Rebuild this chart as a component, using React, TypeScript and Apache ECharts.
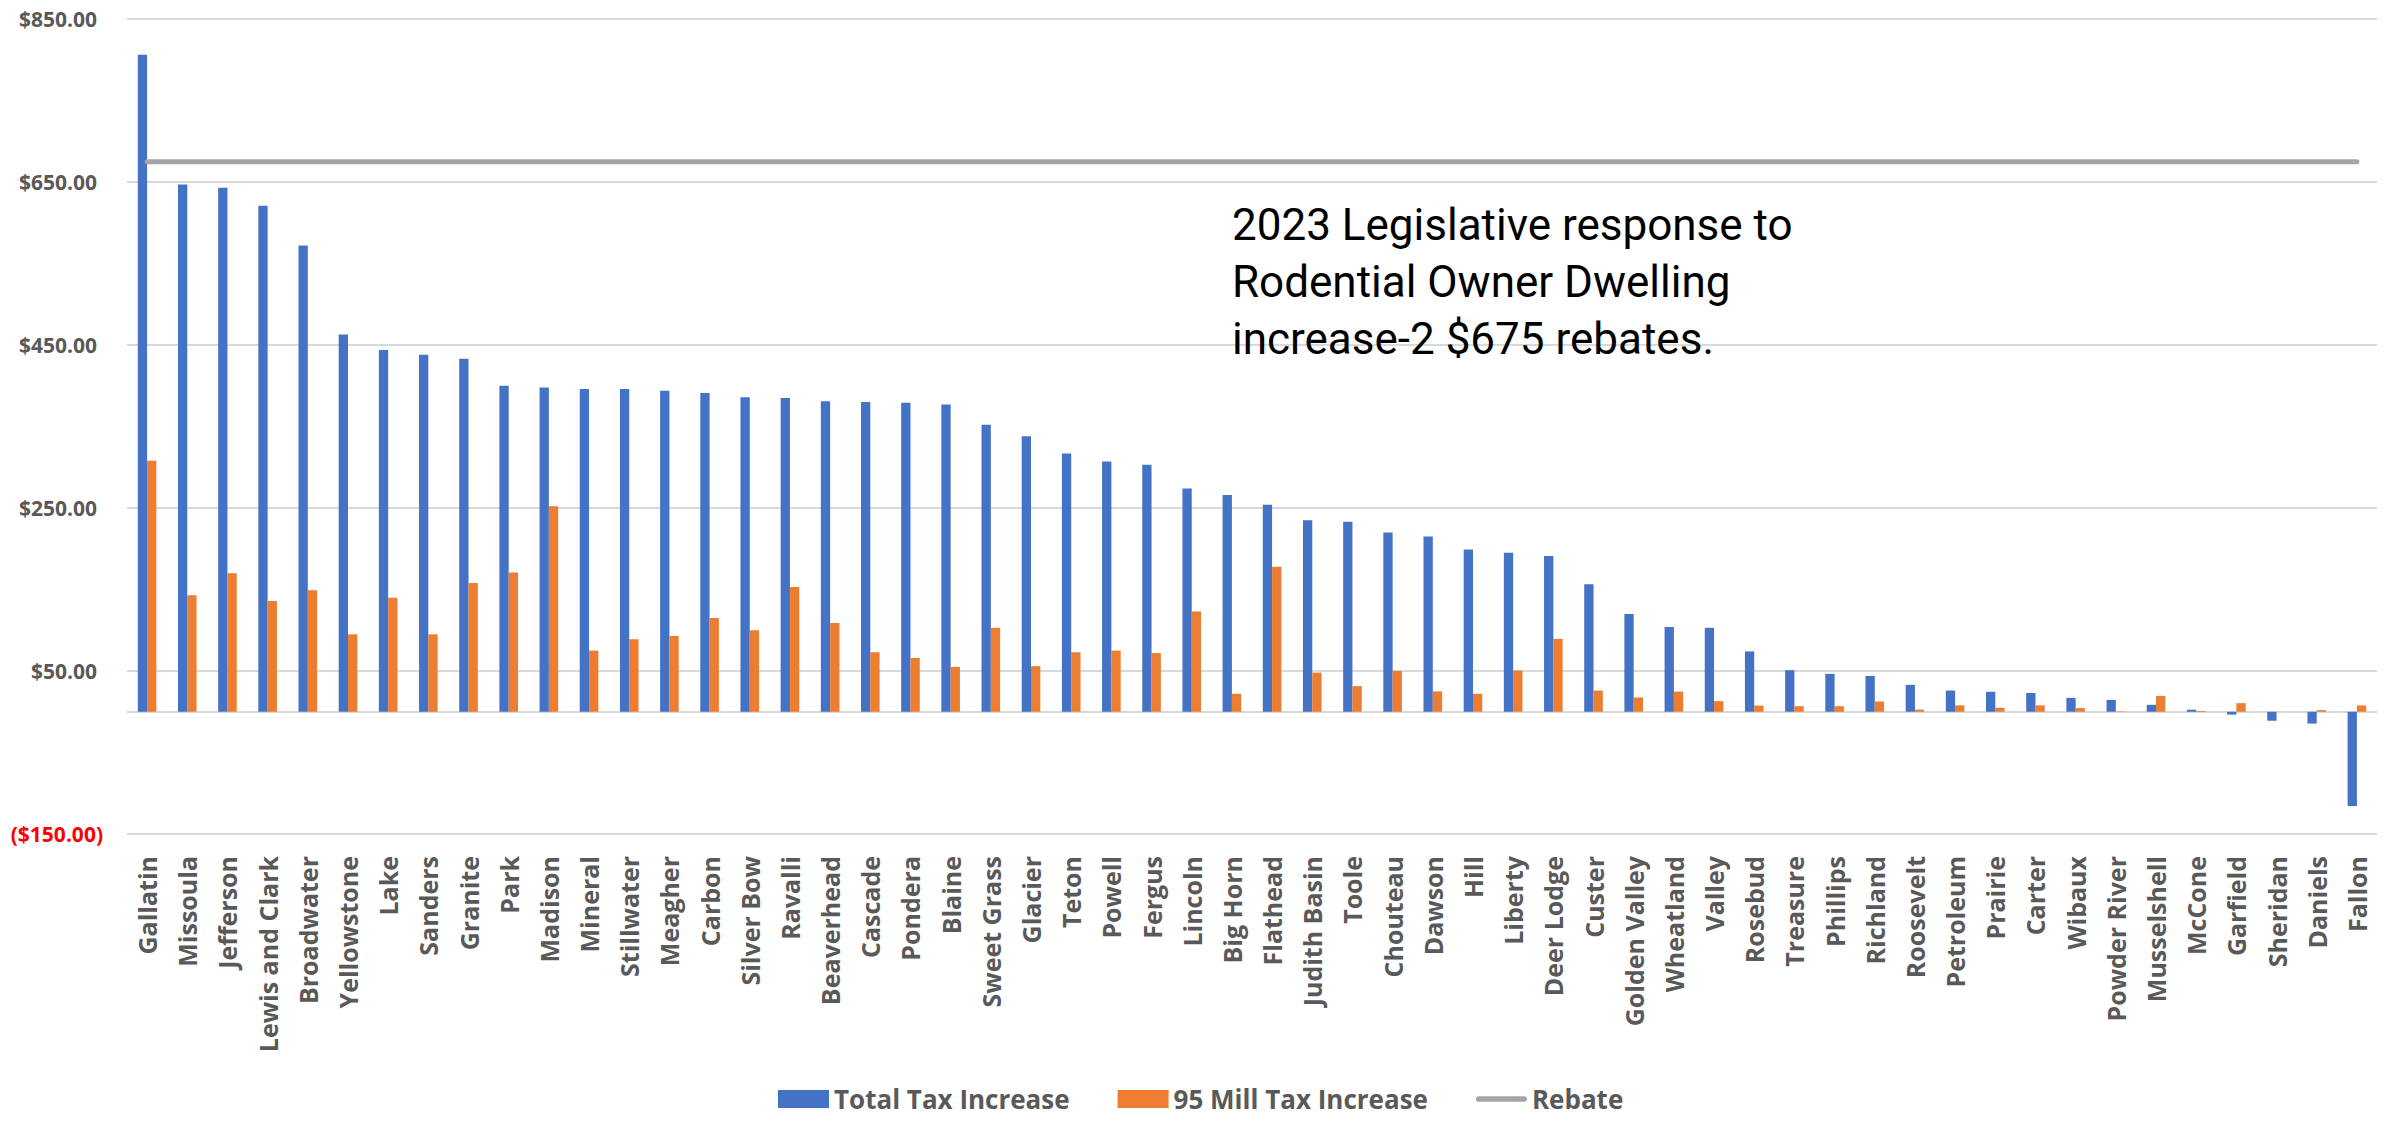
import React, { useEffect, useRef } from "react";
import * as echarts from "echarts";

const counties = [
  "Gallatin", "Missoula", "Jefferson", "Lewis and Clark", "Broadwater", "Yellowstone", "Lake", "Sanders",
  "Granite", "Park", "Madison", "Mineral", "Stillwater", "Meagher", "Carbon", "Silver Bow", "Ravalli",
  "Beaverhead", "Cascade", "Pondera", "Blaine", "Sweet Grass", "Glacier", "Teton", "Powell", "Fergus",
  "Lincoln", "Big Horn", "Flathead", "Judith Basin", "Toole", "Chouteau", "Dawson", "Hill", "Liberty",
  "Deer Lodge", "Custer", "Golden Valley", "Wheatland", "Valley", "Rosebud", "Treasure", "Phillips",
  "Richland", "Roosevelt", "Petroleum", "Prairie", "Carter", "Wibaux", "Powder River", "Musselshell",
  "McCone", "Garfield", "Sheridan", "Daniels", "Fallon",
];

const totalTaxIncrease = [
  806, 647, 643, 621, 572, 463, 444, 438, 433, 400, 398, 396, 396, 394, 391, 386, 385, 381, 380, 379,
  377, 352, 338, 317, 307, 303, 274, 266, 254, 235, 233, 220, 215, 199, 195, 191, 156.5, 120, 104, 103,
  74, 51, 46.5, 44, 33, 26, 24.5, 23, 17, 14.5, 8.5, 2.5, -3.5, -11, -14.5, -115.5,
];

const millTaxIncrease = [
  308, 143, 170, 136, 149, 95, 140, 95, 158, 171, 252, 75, 89, 93, 115, 100, 153, 109, 73, 66,
  55, 103, 56, 73, 75, 72, 123, 22, 178, 48, 31.5, 50, 25, 22, 50.5, 89.5, 26, 17.5, 24.7, 13,
  7.6, 6.8, 6.8, 12.6, 2.6, 7.8, 4.8, 7.8, 4.5, 0.5, 19.5, 1, 10.5, 0, 2, 7.8,
];

const REBATE = 675;
const rebate = counties.map(() => REBATE);

const yLabelValues = [-150, 50, 250, 450, 650, 850];
const gridLineValues = [-150, 0, 50, 250, 450, 650, 850];
const Y_MIN = -150;
const Y_MAX = 850;
const Y_STEP = 50;

const annotationLines = [
  "2023 Legislative response to",
  "Rodential Owner Dwelling",
  "increase-2 $675 rebates.",
];

const fmtMoney = (v: number) => {
  const s = "$" + Math.abs(v).toFixed(2);
  return v < 0 ? "(" + s + ")" : s;
};

export default function App() {
  const ref = useRef<HTMLDivElement>(null);
  useEffect(() => {
    if (!ref.current) return;
    const chart = echarts.init(ref.current, undefined, { renderer: "svg" });
    const tickVals: number[] = [];
    for (let v = Y_MIN; v <= Y_MAX; v += Y_STEP) tickVals.push(v);
    const splitColors = tickVals.map((v) =>
      gridLineValues.includes(v) ? "#d9d9d9" : "rgba(0,0,0,0)"
    );
    chart.setOption({
      animation: false,
      backgroundColor: "#ffffff",
      grid: { left: 127, right: 15, top: 19, bottom: 287, containLabel: false },
      legend: {
        left: 773,
        top: 1081,
        itemWidth: 51,
        itemHeight: 18,
        itemGap: 48,
        symbolKeepAspect: true,
        textStyle: {
          fontFamily: "'Open Sans', sans-serif",
          fontWeight: "bold",
          fontSize: 26,
          color: "#595959",
        },
        data: [
          { name: "Total Tax Increase", icon: "rect" },
          { name: "95 Mill Tax Increase", icon: "rect" },
          {
            name: "Rebate",
            icon: "path://M3,0 H51 A3,3 0 0 1 51,6 H3 A3,3 0 0 1 3,0 Z",
            itemStyle: { color: "#a5a5a5" },
          },
        ],
      },
      xAxis: {
        type: "category",
        data: counties,
        axisLine: { show: false, onZero: false },
        axisTick: { show: false },
        axisLabel: {
          interval: 0,
          rotate: 90,
          margin: 22,
          fontFamily: "'Open Sans', sans-serif",
          fontWeight: "bold",
          fontSize: 25,
          color: "#595959",
        },
      },
      yAxis: {
        type: "value",
        min: Y_MIN,
        max: Y_MAX,
        interval: Y_STEP,
        axisLine: { show: false },
        axisTick: { show: false },
        splitLine: { show: true, lineStyle: { color: splitColors, width: 2 } },
        axisLabel: {
          margin: 24,
          fontFamily: "'Open Sans', sans-serif",
          fontWeight: "bold",
          fontSize: 21,
          formatter: (v: number) => {
            if (!yLabelValues.includes(v)) return "";
            return v < 0 ? "{neg|" + fmtMoney(v) + "}" : "{pos|" + fmtMoney(v) + "}";
          },
          rich: {
            pos: {
              color: "#595959",
              fontFamily: "'Open Sans', sans-serif",
              fontWeight: "bold",
              fontSize: 21,
              padding: [0, 6, 0, 0],
            },
            neg: {
              color: "#ff0000",
              fontFamily: "'Open Sans', sans-serif",
              fontWeight: "bold",
              fontSize: 21,
            },
          },
        },
      },
      series: [
        {
          name: "Total Tax Increase",
          type: "bar",
          data: totalTaxIncrease,
          barWidth: 9.3,
          barGap: "0%",
          itemStyle: { color: "#4472c4" },
        },
        {
          name: "95 Mill Tax Increase",
          type: "bar",
          data: millTaxIncrease,
          barWidth: 9.3,
          barGap: "0%",
          itemStyle: { color: "#ed7d31" },
        },
        {
          name: "Rebate",
          type: "line",
          data: rebate,
          symbol: "none",
          z: 5,
          lineStyle: { color: "#a5a5a5", width: 5, cap: "round" },
          itemStyle: { color: "#a5a5a5" },
        },
      ],
      graphic: [
        {
          type: "text",
          left: 1232,
          top: 196,
          z: 10,
          style: {
            text: annotationLines.join("\n"),
            fontFamily: "Roboto, sans-serif",
            fontSize: 44,
            lineHeight: 57,
            fill: "#000000",
          },
        },
      ],
    });
    return () => chart.dispose();
  }, []);
  return (
    <div
      ref={ref}
      style={{ position: "absolute", left: 0, top: 0, width: 2392, height: 1121 }}
    />
  );
}
